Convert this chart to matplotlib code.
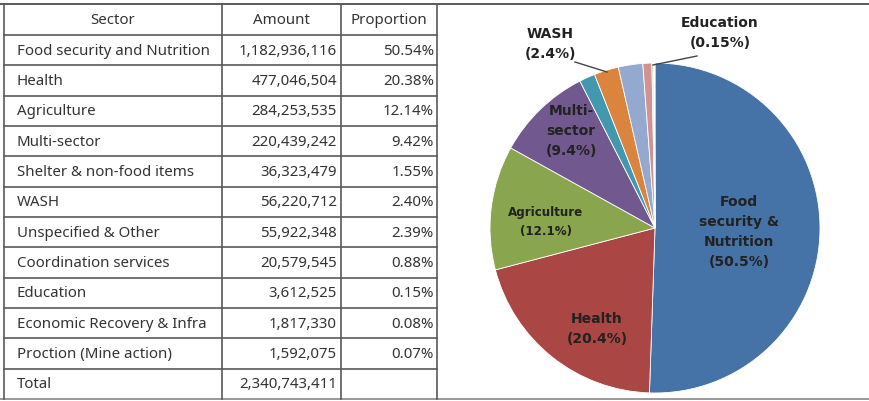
import numpy as np
import matplotlib.pyplot as plt

plt.rcParams['font.family'] = ['Noto Sans', 'DejaVu Sans']

# table data
sectors = ['Food security and Nutrition', 'Health', 'Agriculture', 'Multi-sector',
           'Shelter & non-food items', 'WASH', 'Unspecified & Other',
           'Coordination services', 'Education', 'Economic Recovery & Infra',
           'Proction (Mine action)']
amounts = [1182936116, 477046504, 284253535, 220439242, 36323479, 56220712,
           55922348, 20579545, 3612525, 1817330, 1592075]
proportions = [50.54, 20.38, 12.14, 9.42, 1.55, 2.40, 2.39, 0.88, 0.15, 0.08, 0.07]
total = 2340743411

# pie labels (only some slices are labelled)
pie_labels = ['Food\nsecurity &\nNutrition\n(50.5%)', 'Health\n(20.4%)',
              'Agriculture\n(12.1%)', 'Multi-\nsector\n(9.4%)', '', 'WASH\n(2.4%)',
              '', '', 'Education\n(0.15%)', '', '']
colors = ['#4572A7', '#AA4643', '#89A54E', '#71588F', '#4198AF', '#DB843D',
          '#93A9CF', '#D19392', '#B9CD96', '#A99BBD', '#92C4D5']

W, H = 869, 402
fig = plt.figure(figsize=(W / 100, H / 100), dpi=100)

# background axes in pixel units for the table
ax = fig.add_axes([0, 0, 1, 1])
ax.set_xlim(0, W)
ax.set_ylim(H, 0)
ax.axis('off')

line_c = '#5a5a5a'
txt_c = '#333333'
fs = 10.8

top, head_bot, bottom = 4.5, 36, 400
row_h = (bottom - head_bot) / (len(sectors) + 1)
col_x = [4, 222, 341, 437]

ax.plot([0, W], [top, top], color=line_c, lw=1.4)
ax.plot([0, W], [bottom, bottom], color='#999999', lw=1.4)
ax.plot([col_x[0], col_x[-1]], [head_bot, head_bot], color=line_c, lw=1.2)
for i in range(1, len(sectors) + 1):
    y = head_bot + i * row_h
    ax.plot([col_x[0], col_x[-1]], [y, y], color=line_c, lw=1.2)
for x in col_x:
    ax.plot([x, x], [top, bottom], color=line_c, lw=1.2)

hy = (top + head_bot) / 2
ax.text((col_x[0] + col_x[1]) / 2, hy, 'Sector', ha='center', va='center', fontsize=fs, color=txt_c)
ax.text((col_x[1] + col_x[2]) / 2, hy, 'Amount', ha='center', va='center', fontsize=fs, color=txt_c)
ax.text((col_x[2] + col_x[3]) / 2, hy, 'Proportion', ha='center', va='center', fontsize=fs, color=txt_c)

for i, (s, a, p) in enumerate(zip(sectors, amounts, proportions)):
    y = head_bot + (i + 0.5) * row_h
    ax.text(col_x[0] + 13, y, s, ha='left', va='center', fontsize=fs, color=txt_c)
    ax.text(col_x[2] - 4, y, f'{a:,}', ha='right', va='center', fontsize=fs, color=txt_c)
    ax.text(col_x[3] - 3, y, f'{p:.2f}%', ha='right', va='center', fontsize=fs, color=txt_c)
y = head_bot + (len(sectors) + 0.5) * row_h
ax.text(col_x[0] + 13, y, 'Total', ha='left', va='center', fontsize=fs, color=txt_c)
ax.text(col_x[2] - 4, y, f'{total:,}', ha='right', va='center', fontsize=fs, color=txt_c)

# pie chart
cx, cy, r = 655, 229, 165
pax = fig.add_axes([(cx - r) / W, (H - cy - r) / H, 2 * r / W, 2 * r / H])
pax.pie(amounts, colors=colors, startangle=90, counterclock=False,
        wedgeprops=dict(edgecolor='white', linewidth=0.6))
pax.set_aspect('equal')
pax.set_xlim(-1, 1)
pax.set_ylim(-1, 1)

# overlay axes for pie labels
lax = fig.add_axes([0, 0, 1, 1])
lax.set_xlim(0, W)
lax.set_ylim(H, 0)
lax.axis('off')
lax.patch.set_alpha(0)

label_pos = {0: (739, 232, 10), 1: (597, 329, 10), 2: (546, 222, 8.6),
             3: (571, 131, 10), 5: (550, 44, 10), 8: (720, 33, 10)}
for i, (lx, ly, lfs) in label_pos.items():
    lax.text(lx, ly, pie_labels[i], ha='center', va='center', fontsize=lfs,
             fontweight='bold', color='#222222', linespacing=1.55,
             family=['DejaVu Sans'])

# leader lines
lax.plot([575, 607], [63, 73], color='#444444', lw=1)
lax.plot([697, 653], [57, 66], color='#444444', lw=1)

fig.savefig('out.png', dpi=100)
